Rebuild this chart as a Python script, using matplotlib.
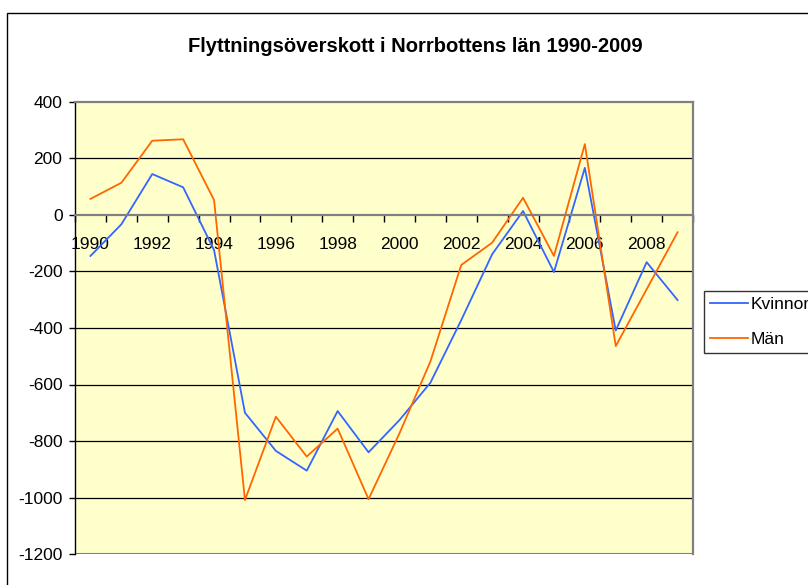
import numpy as np
import matplotlib
matplotlib.use("Agg")
import matplotlib.pyplot as plt
from matplotlib.patches import Rectangle

plt.rcParams['font.family'] = ['Liberation Sans', 'DejaVu Sans']

years = list(range(1990, 2010))
kvinnor = [-145, -33, 145, 98, -124, -700, -835, -905, -694, -840,
           -726, -594, -372, -139, 14, -202, 167, -409, -167, -301]
man = [57, 114, 263, 268, 53, -1009, -714, -855, -756, -1006,
       -773, -519, -177, -98, 61, -145, 251, -464, -263, -61]

fig = plt.figure(figsize=(8.08, 5.85), dpi=100)
ax = fig.add_axes([75/808, 1 - 554/585, 618/808, 452/585])
ax.set_facecolor('#FFFFCC')

x = np.arange(len(years))
ax.plot(x, kvinnor, color='#3366FF', lw=1.3, label='Kvinnor')
ax.plot(x, man, color='#FF6600', lw=1.3, label='Män')

ax.set_xlim(-0.5, len(years) - 0.5)
ax.set_ylim(-1200, 400)

yticks = np.arange(-1200, 401, 200)
ax.set_yticks(yticks)
ax.set_yticklabels([str(v) for v in yticks])
for v in yticks:
    if v not in (-1200, 0, 400):
        ax.axhline(v, color='black', lw=0.9, zorder=1)
ax.axhline(-1200, color='#808080', lw=1.5, zorder=1)

# category axis crosses at zero
ax.spines['bottom'].set_position(('data', 0))
ax.spines['bottom'].set_color('#808080')
ax.spines['bottom'].set_linewidth(1.6)
ax.spines['top'].set_color('#808080')
ax.spines['top'].set_linewidth(1.6)
ax.spines['right'].set_color('#808080')
ax.spines['right'].set_linewidth(1.6)
ax.spines['left'].set_color('black')
ax.spines['left'].set_linewidth(1.0)

ax.set_xticks(x[::2])
ax.set_xticklabels([str(y) for y in years[::2]])
ax.set_xticks(np.arange(-0.5, len(years)), minor=True)
ax.tick_params(axis='x', which='major', length=0, pad=16, labelsize=12.5)
ax.tick_params(axis='x', which='minor', length=5, width=1, direction='out', color='black')
ax.tick_params(axis='y', length=4, width=1, pad=5, labelsize=12.5)

fig.text(0.514, 1 - 47/585, 'Flyttningsöverskott i Norrbottens län 1990-2009',
         ha='center', va='center', fontsize=14.5, fontweight='bold')

leg = fig.legend(loc='upper left', bbox_to_anchor=(704/808, 1 - 291/585),
                 frameon=True, fancybox=False, fontsize=12.5, handlelength=2.2,
                 handletextpad=0.15, borderpad=0.35, labelspacing=1.15,
                 borderaxespad=0)
leg.get_frame().set_edgecolor('black')
leg.get_frame().set_linewidth(1.0)

fig.patches.append(Rectangle((7/808, -0.1), 1.2, 0.1 + (585 - 13)/585,
                             transform=fig.transFigure, fill=False,
                             ec='black', lw=1.0))

fig.savefig('out.png', dpi=100)
